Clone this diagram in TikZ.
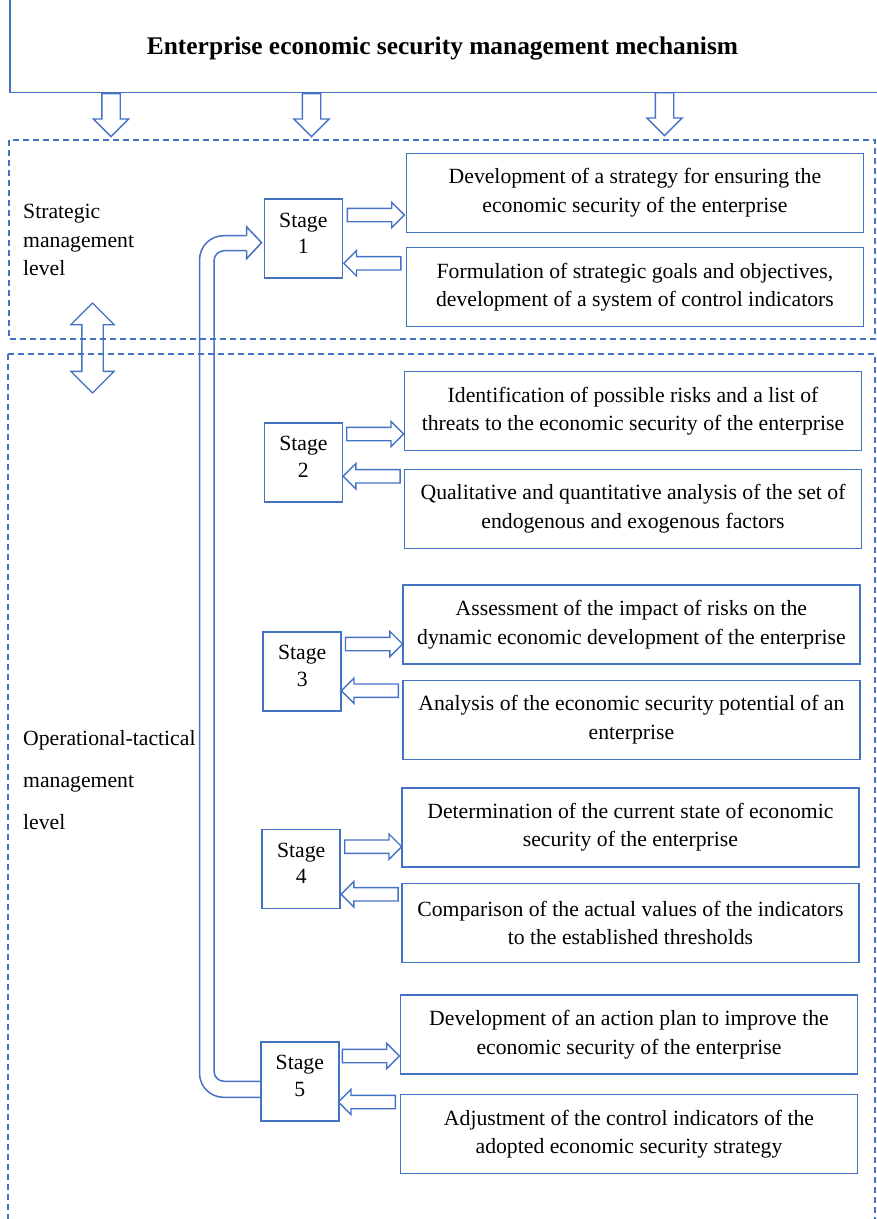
\documentclass[tikz,border=0pt]{standalone}
\usepackage{fontspec}
\setmainfont{Liberation Serif}
\usetikzlibrary{positioning, shapes.arrows, calc}
\definecolor{wordblue}{RGB}{68,114,196}
\tikzset{
every node/.style={font=\fontsize{21.7}{28.5}\selectfont}, % text size of the whole picture
stagebox/.style={draw=wordblue, line width=1.5pt, minimum width=78pt, minimum height=79pt, align=center, inner sep=0pt, text depth=11pt, font=\fontsize{21.7}{26.7}\selectfont},
taskbox/.style={draw=wordblue, line width=1.5pt, minimum width=457pt, minimum height=79pt, align=center, inner sep=0pt},
levelbox/.style={draw=wordblue, line width=1.2pt, dash pattern=on 6pt off 4pt},
blockarrow/.style={single arrow, draw=wordblue, line width=1.4pt, inner sep=6pt, single arrow head extend=6pt, minimum width=24pt, minimum height=57pt, anchor=tail},
fwd/.style={blockarrow},
back/.style={blockarrow, shape border rotate=180},
down/.style={blockarrow, shape border rotate=270, inner sep=8.5pt, single arrow head extend=8.5pt, minimum width=34pt, minimum height=43pt},
loop/.style={draw=wordblue, line width=1.5pt},
}
\begin{document}
\begin{tikzpicture}[x=1pt, y=-1pt]
        \useasboundingbox (0,0) rectangle (877,1219);

        % mechanism frame and the two levels
        \node[draw=wordblue, line width=1.5pt, anchor=south west, minimum width=900pt, minimum height=120pt] (frame) at (9,93) {};
        \node[font=\bfseries\fontsize{25.4}{30}\selectfont] (title) at (442.5,48) {Enterprise economic security management mechanism};
        \draw[levelbox] (9,140) rectangle (875,339);
        \draw[levelbox] (8,354) rectangle (875,1240);

        \node[down] (d1) at (111,93) {};
        \node[down] (d2) at (311.5,93) {};
        \node[down] (d3) at (664.5,92) {};
        \node[double arrow, draw=wordblue, line width=1.4pt, inner sep=10pt, double arrow head extend=11pt, minimum height=90pt, shape border rotate=90] (link) at (92.5,348) {};

        \node[anchor=west, align=left, inner sep=0pt] (strategic) at (23,240) {Strategic\\management\\level};
        \node[anchor=west, align=left, inner sep=0pt, font=\fontsize{21.7}{42}\selectfont] (operational) at (23,780) {Operational-tactical\\management\\level};

        % stages
        \node[stagebox] (s1) at (303.3,238.7) {Stage\\1};
        \node[stagebox] (s2) at (303.4,462.3) {Stage\\2};
        \node[stagebox] (s3) at (302.2,671.3) {Stage\\3};
        \node[stagebox] (s4) at (301.2,868.8) {Stage\\4};
        \node[stagebox] (s5) at (299.8,1081.3) {Stage\\5};

        % tasks of each stage
        \node[taskbox] (t1a) at (634.9,192.8) {Development of a strategy for ensuring the\\economic security of the enterprise};
        \node[taskbox, below=13.7pt of t1a] (t1b) {Formulation of strategic goals and objectives,\\development of a system of control indicators};
        \node[taskbox] (t2a) at (633,411) {Identification of possible risks and a list of\\threats to the economic security of the enterprise};
        \node[taskbox, below=17.4pt of t2a] (t2b) {Qualitative and quantitative analysis of the set of\\endogenous and exogenous factors};
        \node[taskbox] (t3a) at (631.4,624.7) {Assessment of the impact of risks on the\\dynamic economic development of the enterprise};
        \node[taskbox, below=14.7pt of t3a] (t3b) {Analysis of the economic security potential of an\\enterprise};
        \node[taskbox] (t4a) at (630.4,827.3) {Determination of the current state of economic\\security of the enterprise};
        \node[taskbox, below=15pt of t4a] (t4b) {Comparison of the actual values of the indicators\\to the established thresholds};
        \node[taskbox] (t5a) at (629,1034.7) {Development of an action plan to improve the\\economic security of the enterprise};
        \node[taskbox, below=19pt of t5a] (t5b) {Adjustment of the control indicators of the\\adopted economic security strategy};

        \node[fwd] (f1) at (346.7,215) {};
        \node[back] (b1) at (401.5,263.3) {};
        \node[fwd] (f2) at (346,434) {};
        \node[back] (b2) at (400.8,476.3) {};
        \node[fwd] (f3) at (344.8,644) {};
        \node[back] (b3) at (399,690.7) {};
        \node[fwd] (f4) at (344,846.7) {};
        \node[back] (b4) at (398.8,894.3) {};
        \node[fwd] (f5) at (341.7,1056) {};
        \node[back] (b5) at (396,1102) {};

        % feedback from stage 5 to stage 1
        \draw[loop, rounded corners=24pt] ([yshift=-16pt]s5.west) -| ([xshift=-64pt, yshift=3pt]s1.west) -- ([xshift=-17pt, yshift=3pt]s1.west);
        \draw[loop] ([xshift=-17pt, yshift=3pt]s1.west) -- ([xshift=-17pt, yshift=12pt]s1.west) -- ([xshift=-2pt, yshift=-4pt]s1.west)
            -- ([xshift=-17pt, yshift=-20pt]s1.west) -- ([xshift=-17pt, yshift=-12pt]s1.west);
        \draw[loop, rounded corners=10pt] ([xshift=-17pt, yshift=-12pt]s1.west) -| ([xshift=-46pt]s5.west) -- (s5.west);
\end{tikzpicture}
\end{document}
